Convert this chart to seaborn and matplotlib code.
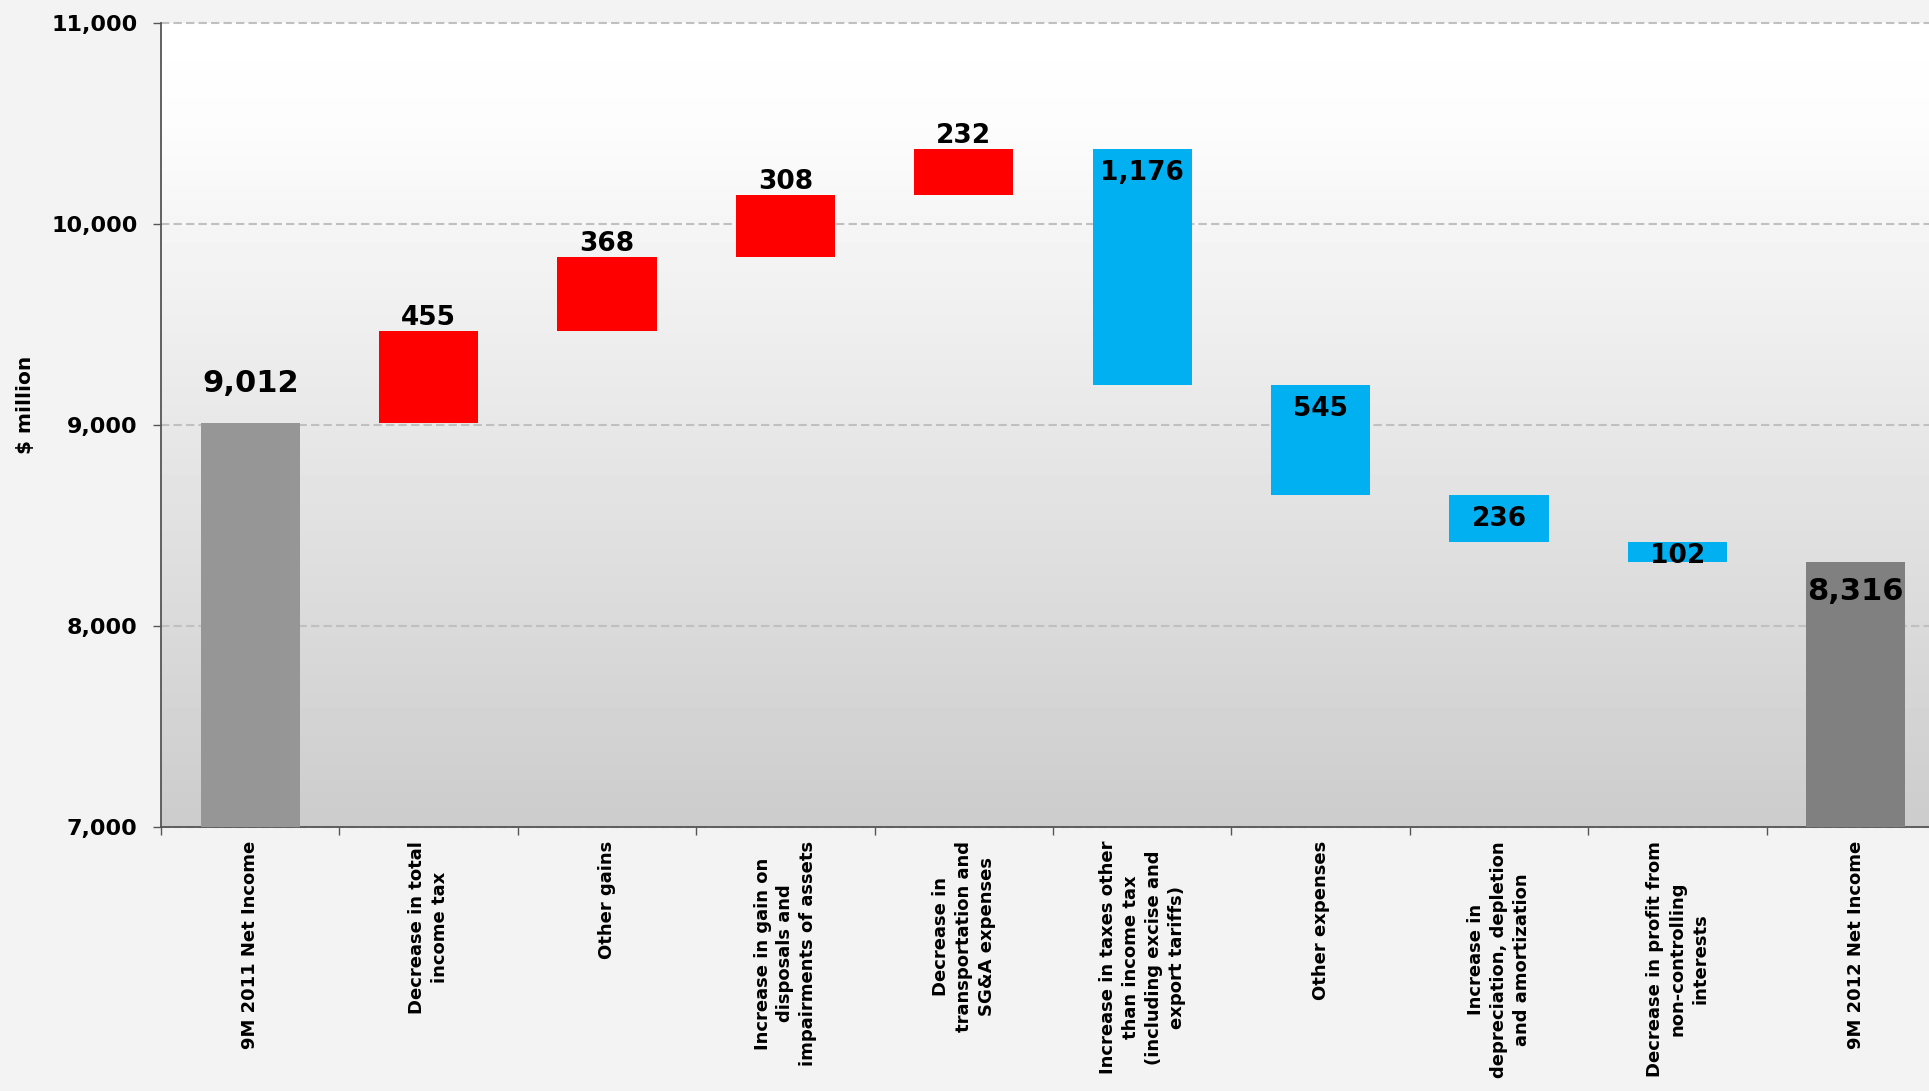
import numpy as np
import seaborn as sns
import matplotlib.pyplot as plt
from matplotlib.ticker import FuncFormatter

# Data: net income bridge 9M 2011 -> 9M 2012 ($ million)
categories = [
    '9M 2011 Net Income',
    'Decrease in total\nincome tax',
    'Other gains',
    'Increase in gain on\ndisposals and\nimpairments of assets',
    'Decrease in\ntransportation and\nSG&A expenses',
    'Increase in taxes other\nthan income tax\n(including excise and\nexport tariffs)',
    'Other expenses',
    'Increase in\ndepreciation, depletion\nand amortization',
    'Decrease in profit from\nnon-controlling\ninterests',
    '9M 2012 Net Income',
]
start_total = 9012
changes = [455, 368, 308, 232, -1176, -545, -236, -102]
end_total = 8316

# waterfall geometry from the data
heights = [start_total]
bottoms = [0]
running = start_total
for c in changes:
    if c >= 0:
        bottoms.append(running)
        heights.append(c)
    else:
        bottoms.append(running + c)
        heights.append(-c)
    running += c
heights.append(end_total)
bottoms.append(0)

colors = ['#969696'] + ['#ff0000' if c > 0 else '#00b0f0' for c in changes] + ['#808080']

sns.set_style('white')
plt.rcParams['font.family'] = ['DejaVu Sans']
plt.rcParams['text.color'] = 'black'

fig = plt.figure(figsize=(19.29, 10.91), dpi=100)
fig.patch.set_facecolor('#f3f3f3')
ax = fig.add_axes([161 / 1929, 1 - 827 / 1091, 1784 / 1929, 804 / 1091])

# gradient plot area (white on top, gray at the bottom)
t = np.linspace(0, 1, 256)
grad = np.interp(t, [0, 0.12, 1], [1.0, 0.99, 0.80]).reshape(-1, 1)
ax.imshow(grad, cmap='gray', vmin=0, vmax=1, aspect='auto',
          extent=[0, 1, 0, 1], transform=ax.transAxes, zorder=-2)

sns.barplot(x=categories, y=heights, bottom=np.array(bottoms), width=0.556,
            errorbar=None, ax=ax, zorder=3, linewidth=0, color='#969696',
            saturation=1)
for patch, col in zip(ax.patches, colors):
    patch.set_facecolor(col)
    patch.set_edgecolor(col)

ax.set_xlim(-0.5, len(categories) - 0.5)
ax.set_ylim(7000, 11000)

# gridlines
ax.set_axisbelow(True)
ax.yaxis.grid(True, color='#c0c0c0', linestyle=(0, (4, 2)), linewidth=1.5)
ax.set_yticks([7000, 8000, 9000, 10000, 11000])
ax.yaxis.set_major_formatter(FuncFormatter(lambda v, p: f'{int(v):,}'))
ax.tick_params(axis='y', length=6, width=1, color='#555555', pad=11, left=True,
               labelcolor='black')
for lab in ax.get_yticklabels():
    lab.set_fontsize(16)
    lab.set_fontweight('bold')
for gl in ax.get_ygridlines():
    gl.set_clip_on(False)

# category labels at centres, tick marks at boundaries
ax.set_xticks(range(len(categories)))
ax.set_xticklabels(categories, rotation=90, ha='center', va='top',
                   multialignment='center', fontsize=13, fontweight='bold',
                   linespacing=1.35)
ax.tick_params(axis='x', which='major', length=0, pad=10, labelcolor='black')
ax.set_xticks(np.arange(-0.5, len(categories), 1.0), minor=True)
ax.tick_params(axis='x', which='minor', length=6, width=1, color='#555555', bottom=True)
ax.set_xlabel('')
ax.set_ylabel('')

for s in ['top', 'right']:
    ax.spines[s].set_visible(False)
for s in ['left', 'bottom']:
    ax.spines[s].set_color('#555555')
    ax.spines[s].set_linewidth(1.3)

# value labels
ax.annotate(f'{start_total:,}', (0, start_total), xytext=(0, 25), textcoords='offset pixels',
            ha='center', va='bottom', fontsize=22, fontweight='bold', zorder=5)
for i, c in enumerate(changes, start=1):
    top = bottoms[i] + heights[i]
    if c > 0:
        ax.annotate(f'{c:,}', (i, top), xytext=(0, 0), textcoords='offset pixels',
                    ha='center', va='bottom', fontsize=19, fontweight='bold', zorder=5)
    else:
        off = -11 if abs(c) > 150 else -1
        ax.annotate(f'{-c:,}', (i, top), xytext=(0, off), textcoords='offset pixels',
                    ha='center', va='top', fontsize=19, fontweight='bold', zorder=5)
ax.annotate(f'{end_total:,}', (len(categories) - 1, end_total), xytext=(0, -15),
            textcoords='offset pixels', ha='center', va='top', fontsize=22,
            fontweight='bold', zorder=5)

fig.text(25 / 1929, 1 - 405 / 1091, '$ million', rotation=90, ha='center', va='center',
         fontsize=14.5, fontweight='bold')

fig.savefig('out.png', dpi=100, facecolor=fig.get_facecolor())
